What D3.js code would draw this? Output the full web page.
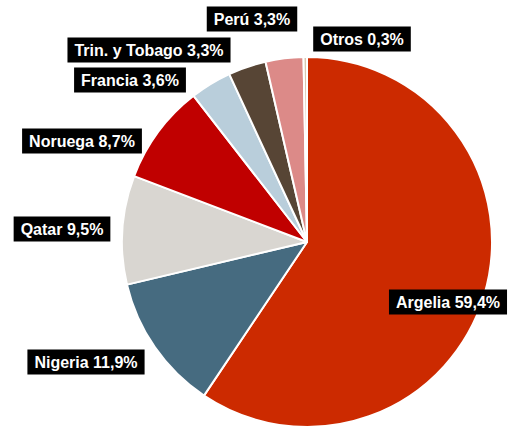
<!DOCTYPE html>
<html><head><meta charset="utf-8">
<script src="https://cdn.jsdelivr.net/npm/d3@7"></script>
<style>html,body{margin:0;padding:0;background:#fff;}svg{display:block;}</style>
</head><body>
<svg id="c" width="515" height="428"></svg>
<script>
const categories = ["Argelia","Nigeria","Qatar","Noruega","Francia","Trin. y Tobago","Perú","Otros"];
const values = [59.4, 11.9, 9.5, 8.7, 3.6, 3.3, 3.3, 0.3];
const colors = ["#CC2A00","#466B80","#D9D6D1","#C00000","#B9CEDB","#574535","#DC8A88","#D8C8B0"];
// label box centres (layout only)
const labelCenters = [[448,302],[86,362],[62,229],[82,141],[130,80],[149,50],[252,19],[362,39]];

const svg = d3.select("#c");
const cx = 307, cy = 242, r = 185;
const pie = d3.pie().sort(null).value(d => d)(values);
const arc = d3.arc().innerRadius(0).outerRadius(r);
const g = svg.append("g").attr("transform", `translate(${cx},${cy})`);
g.selectAll("path").data(pie).join("path")
  .attr("d", arc).attr("fill", (d,i) => colors[i])
  .attr("stroke", "#fff").attr("stroke-width", 2).attr("stroke-linejoin","round");

const fmt = v => d3.format(".1f")(v).replace(".", ",") + "%";
categories.forEach((c, i) => {
  const [x, y] = labelCenters[i];
  const lg = svg.append("g");
  const t = lg.append("text").attr("x", x).attr("y", y + 5.5)
    .attr("text-anchor", "middle")
    .attr("font-family", "Liberation Sans, Arial, sans-serif")
    .attr("font-weight", "bold").attr("font-size", 16).attr("fill", "#fff")
    .text(c + " " + fmt(values[i]));
  const w = t.node().getComputedTextLength();
  lg.insert("rect", "text").attr("x", x - w/2 - 7).attr("y", y - 12.5)
    .attr("width", w + 14).attr("height", 25).attr("fill", "#000");
});
</script>
</body></html>
